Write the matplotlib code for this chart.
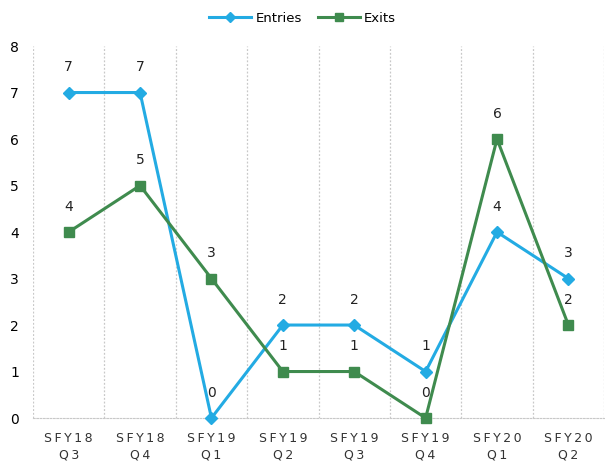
import matplotlib.pyplot as plt

quarters = ["SFY18\nQ3", "SFY18\nQ4", "SFY19\nQ1", "SFY19\nQ2",
            "SFY19\nQ3", "SFY19\nQ4", "SFY20\nQ1", "SFY20\nQ2"]
entries = [7, 7, 0, 2, 2, 1, 4, 3]
exits = [4, 5, 3, 1, 1, 0, 6, 2]

blue = "#23ABE3"
green = "#3F8B4E"

def spaced(label):
    # wide letter tracking like the original axis labels
    return "\n".join("\u2009".join(part) for part in label.split("\n"))

fig = plt.figure(figsize=(6.05, 4.65), dpi=100)
ax = fig.add_axes([0.0545, 0.101, 0.944, 0.8])

x = list(range(len(quarters)))
ax.plot(x, entries, color=blue, lw=2.2, marker="D", ms=6.5, label="Entries", clip_on=False, zorder=3)
ax.plot(x, exits, color=green, lw=2.2, marker="s", ms=7, label="Exits", clip_on=False, zorder=3)

for xi, v in zip(x, entries):
    ax.annotate(str(v), (xi, v), xytext=(0, 13), textcoords="offset points",
                ha="center", va="bottom", fontsize=10, color="#222222")
for xi, v in zip(x, exits):
    ax.annotate(str(v), (xi, v), xytext=(0, 13), textcoords="offset points",
                ha="center", va="bottom", fontsize=10, color="#222222")

ax.set_xlim(-0.5, 7.5)
ax.set_ylim(0, 8)
ax.set_yticks(range(9))
ax.set_xticks(x)
ax.set_xticklabels([spaced(q) for q in quarters], fontsize=9, color="#333333", linespacing=1.35)
ax.tick_params(axis="y", labelsize=10, length=0, pad=10)
ax.tick_params(axis="x", length=0, pad=10)

# category separators
for b in [i - 0.5 for i in range(len(quarters) + 1)]:
    ax.axvline(b, color="#c8c8c8", lw=0.9, ls=(0, (1.5, 1.5)), zorder=1)

for s in ["top", "right", "left"]:
    ax.spines[s].set_visible(False)
ax.spines["bottom"].set_color("#c8c8c8")
ax.spines["bottom"].set_linestyle((0, (1.5, 1.5)))

fig.legend(loc="upper center", bbox_to_anchor=(0.5, 1.0), ncol=2, frameon=False,
           fontsize=9.5, handlelength=3.2, columnspacing=1.2, handletextpad=0.3,
           markerscale=0.85)

fig.savefig("out.png", dpi=100)
